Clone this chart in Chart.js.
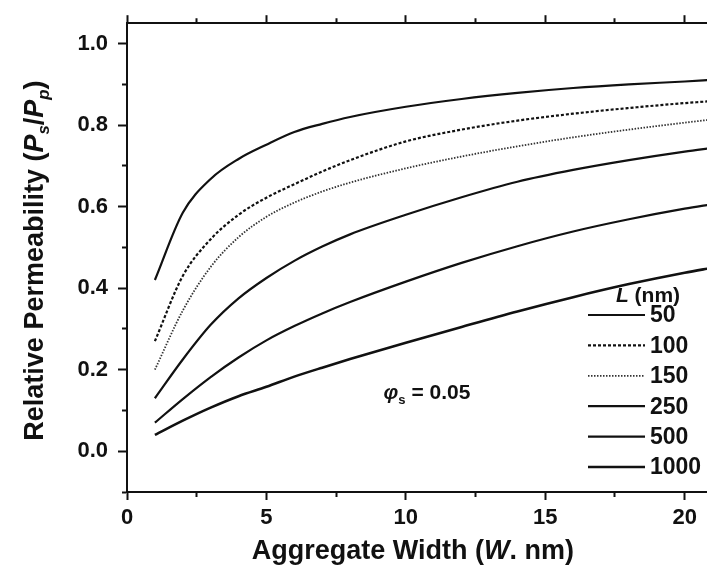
<!DOCTYPE html>
<html>
<head>
<meta charset="utf-8">
<script src="https://cdn.jsdelivr.net/npm/chart.js@4/dist/chart.umd.min.js"></script>
<style>
html,body{margin:0;padding:0;background:#fff;}
#wrap{width:707px;height:580px;position:relative;}
</style>
</head>
<body>
<div id="wrap"><canvas id="c"></canvas></div>
<script>
// ---- data ----
const widthW   = [1, 2, 3, 4, 5, 6, 7, 8, 10, 12, 14, 16, 18, 20, 21];
const perm50   = [0.42, 0.585, 0.668, 0.717, 0.752, 0.783, 0.803, 0.820, 0.845, 0.864, 0.879, 0.891, 0.900, 0.907, 0.911];
const perm100  = [0.27, 0.430, 0.520, 0.580, 0.622, 0.655, 0.686, 0.714, 0.760, 0.789, 0.811, 0.828, 0.842, 0.854, 0.859];
const perm150  = [0.20, 0.345, 0.452, 0.525, 0.575, 0.610, 0.637, 0.659, 0.694, 0.723, 0.748, 0.770, 0.789, 0.806, 0.814];
const perm250  = [0.13, 0.225, 0.310, 0.375, 0.425, 0.467, 0.502, 0.532, 0.580, 0.623, 0.661, 0.690, 0.714, 0.735, 0.744];
const perm500  = [0.07, 0.128, 0.182, 0.230, 0.272, 0.307, 0.338, 0.366, 0.416, 0.462, 0.503, 0.539, 0.569, 0.595, 0.606];
const perm1000 = [0.04, 0.075, 0.107, 0.135, 0.158, 0.183, 0.205, 0.226, 0.266, 0.305, 0.343, 0.378, 0.410, 0.438, 0.450];
const lengthLabels = ['50', '100', '150', '250', '500', '1000'];
const xTickStep = 2.5;   // minor every 2.5, labelled every 5
const yTickStep = 0.1;   // minor every 0.1, labelled every 0.2
const phiText = '0.05';

const FONT = '"Liberation Sans", Arial, Helvetica, sans-serif';
const INK = '#111';

const seriesValues = [perm50, perm100, perm150, perm250, perm500, perm1000];
const styles = [
  {w: 2.2, dash: []},
  {w: 2.2, dash: [3, 2]},
  {w: 1.8, dash: [1.5, 1.5]},
  {w: 2.2, dash: []},
  {w: 2.2, dash: []},
  {w: 2.6, dash: []}
];

const datasets = seriesValues.map((vals, k) => ({
  label: lengthLabels[k],
  data: widthW.map((x, i) => ({x: x, y: vals[i]})),
  borderColor: k === 2 ? '#333' : INK,
  borderWidth: styles[k].w,
  borderDash: styles[k].dash,
  pointRadius: 0,
  fill: false,
  cubicInterpolationMode: 'monotone'
}));

function isMultiple(v, step) {
  const r = v / step;
  return Math.abs(r - Math.round(r)) < 1e-6;
}

// major/minor tick styling via scriptable dash
function dashOuterToAxis(ctx) {      // left / top: line drawn from outer end to axis
  const v = ctx.tick.value;
  return ctx.scale.axis === 'x'
    ? (isMultiple(v, 5) ? [] : [0, 3, 4, 100])
    : (isMultiple(v, 0.2) ? [] : [0, 4, 4, 100]);
}
function dashAxisToOuter(ctx) {      // bottom: line drawn from axis outward
  const v = ctx.tick.value;
  return isMultiple(v, 5) ? [] : [4, 100];
}
function tickColX(ctx) { return isMultiple(ctx.tick.value, xTickStep) ? INK : 'rgba(0,0,0,0)'; }
function tickColY(ctx) { return isMultiple(ctx.tick.value, yTickStep) ? INK : 'rgba(0,0,0,0)'; }

function drawRich(ctx, segs, size, x, y, align) {
  let total = 0;
  const parts = segs.map(s => {
    const fs = s.sub ? size * 0.62 : size;
    const font = (s.italic ? 'italic ' : '') + 'bold ' + fs + 'px ' + FONT;
    ctx.font = font;
    const w = ctx.measureText(s.t).width;
    total += w;
    return {t: s.t, font: font, w: w, dy: s.sub ? size * 0.32 : 0};
  });
  let cx = align === 'center' ? x - total / 2 : x;
  ctx.textBaseline = 'middle';
  ctx.textAlign = 'left';
  parts.forEach(p => { ctx.font = p.font; ctx.fillText(p.t, cx, y + p.dy); cx += p.w; });
}

const decor = {
  id: 'decor',
  afterDraw(chart) {
    const ctx = chart.ctx;
    const ca = chart.chartArea;
    const xs = chart.scales.x, ys = chart.scales.y;
    ctx.save();
    ctx.fillStyle = INK;

    // y axis title (rotated)
    ctx.save();
    ctx.translate(36, (ca.top + ca.bottom) / 2 + 3);
    ctx.rotate(-Math.PI / 2);
    drawRich(ctx, [
      {t: 'Relative Permeability ('},
      {t: 'P', italic: true}, {t: 's', italic: true, sub: true},
      {t: '/'},
      {t: 'P', italic: true}, {t: 'p', italic: true, sub: true},
      {t: ')'}
    ], 27, 0, 0, 'center');
    ctx.restore();

    // x axis title
    drawRich(ctx, [
      {t: 'Aggregate Width ('}, {t: 'W', italic: true}, {t: '. nm)'}
    ], 27, xs.getPixelForValue(10.25), 552, 'center');

    // phi annotation
    drawRich(ctx, [
      {t: '\u03C6', italic: true}, {t: 's', sub: true}, {t: ' = ' + phiText}
    ], 21, xs.getPixelForValue(9.2), ys.getPixelForValue(0.142), 'left');

    // legend
    const lx0 = ca.right - 119, lx1 = ca.right - 62, tx = ca.right - 57;
    const rowY0 = ca.bottom - 177, rowGap = 30.4;
    drawRich(ctx, [{t: 'L', italic: true}, {t: ' (nm)'}], 21, lx0 + 60, rowY0 - 19, 'center');
    chart.data.datasets.forEach((ds, k) => {
      const y = rowY0 + k * rowGap;
      ctx.save();
      ctx.strokeStyle = ds.borderColor;
      ctx.lineWidth = ds.borderWidth;
      ctx.setLineDash(ds.borderDash || []);
      ctx.beginPath();
      ctx.moveTo(lx0, y);
      ctx.lineTo(lx1, y);
      ctx.stroke();
      ctx.restore();
      drawRich(ctx, [{t: ds.label}], 23, tx, y + 1, 'left');
    });
    ctx.restore();
  }
};

new Chart(document.getElementById('c'), {
  type: 'line',
  data: {datasets: datasets},
  plugins: [decor],
  options: {
    responsive: true,
    maintainAspectRatio: false,
    animation: false,
    layout: {padding: {left: 0, right: 0, top: 0, bottom: 0}},
    plugins: {legend: {display: false}, tooltip: {enabled: false}},
    scales: {
      x: {
        type: 'linear',
        position: 'bottom',
        min: 0, max: 20.8,
        afterFit(s) { s.height = 88; },
        afterBuildTicks(s) { s.ticks = s.ticks.filter(t => isMultiple(t.value, xTickStep)); },
        ticks: {
          stepSize: xTickStep,
          includeBounds: false,
          autoSkip: false,
          maxRotation: 0,
          padding: 5,
          color: INK,
          font: {family: FONT, size: 22, weight: 'bold'},
          callback: v => isMultiple(v, 5) ? String(Math.round(v)) : ''
        },
        grid: {
          drawOnChartArea: false,
          tickLength: 8,
          tickWidth: 2,
          tickColor: tickColX,
          tickBorderDash: dashAxisToOuter
        },
        border: {display: true, color: INK, width: 2}
      },
      x2: {
        type: 'linear',
        position: 'top',
        min: 0, max: 20.8,
        afterFit(s) { s.height = 18; },
        afterBuildTicks(s) { s.ticks = s.ticks.filter(t => isMultiple(t.value, xTickStep)); },
        ticks: {stepSize: xTickStep, includeBounds: false, display: false},
        grid: {
          drawOnChartArea: false,
          tickLength: 8,
          tickWidth: 2,
          tickColor: tickColX,
          tickBorderDash: dashOuterToAxis
        },
        border: {display: true, color: INK, width: 2}
      },
      y: {
        type: 'linear',
        position: 'left',
        min: -0.1, max: 1.05,
        afterFit(s) { s.width = 127; },
        afterBuildTicks(s) { s.ticks = s.ticks.filter(t => isMultiple(t.value, yTickStep)); },
        ticks: {
          stepSize: yTickStep,
          includeBounds: false,
          autoSkip: false,
          padding: 10,
          color: INK,
          font: {family: FONT, size: 22, weight: 'bold'},
          callback: v => (isMultiple(v, 0.2) && v > -0.05) ? v.toFixed(1) : ''
        },
        grid: {
          drawOnChartArea: false,
          tickLength: 9,
          tickWidth: 2,
          tickColor: tickColY,
          tickBorderDash: dashOuterToAxis
        },
        border: {display: true, color: INK, width: 2}
      }
    }
  }
});
</script>
</body>
</html>
